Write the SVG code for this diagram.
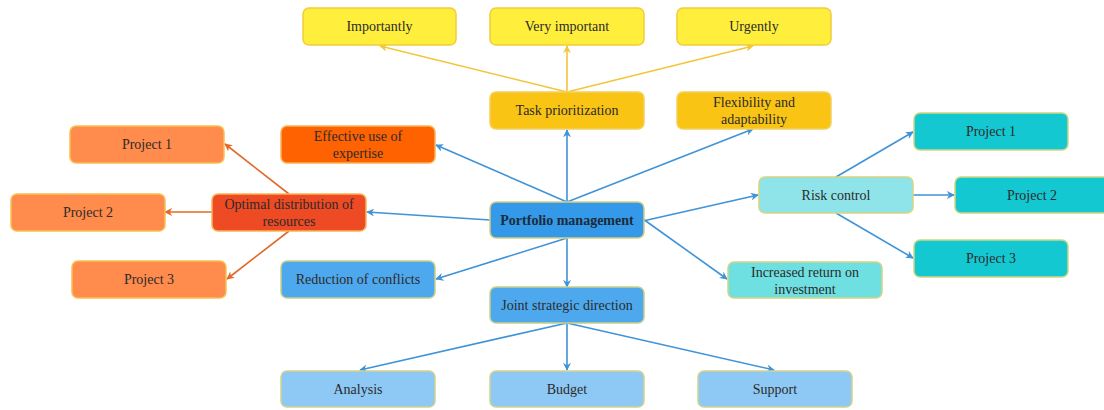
<svg xmlns="http://www.w3.org/2000/svg" width="1104" height="410" viewBox="0 0 1104 410" font-family="'Liberation Serif', 'Times New Roman', serif">
<defs>
<style>
.n{stroke-width:1.5}
.t{font-family:'Liberation Serif','Times New Roman',serif;font-size:14px;fill:#2b2b2b;text-anchor:middle}
.b{font-weight:bold;fill:#1d2b3a}
.y1{fill:#FFEE3C;stroke:#F2CC3A}
.y2{fill:#F9C414;stroke:#F4D060}
.o1{fill:#FF6200;stroke:#F7B255}
.o2{fill:#EE4A24;stroke:#F7B255}
.o3{fill:#FF8B4C;stroke:#F7C050}
.bl0{fill:#3399E8;stroke:#D8CF7E}
.bl1{fill:#4EA8EE;stroke:#C9CF88}
.bl2{fill:#8EC8F4;stroke:#D2D28C}
.c1{fill:#8EE4E8;stroke:#D6D480}
.c2{fill:#6EE0E2;stroke:#D6D480}
.c3{fill:#14C8D2;stroke:#CFD680}
.lb{stroke:#3F93D8;stroke-width:1.6;fill:none;marker-end:url(#ab)}
.lo{stroke:#E0692A;stroke-width:1.6;fill:none;marker-end:url(#ao)}
.ly{stroke:#F2C63A;stroke-width:1.6;fill:none;marker-end:url(#ay)}
</style>
<marker id="ab" viewBox="0 0 10 10" refX="9" refY="5" markerWidth="5" markerHeight="5" orient="auto" markerUnits="strokeWidth"><path d="M0,0 L10,5 L0,10 L3,5 Z" fill="#3F93D8"/></marker>
<marker id="ao" viewBox="0 0 10 10" refX="9" refY="5" markerWidth="5" markerHeight="5" orient="auto" markerUnits="strokeWidth"><path d="M0,0 L10,5 L0,10 L3,5 Z" fill="#E0692A"/></marker>
<marker id="ay" viewBox="0 0 10 10" refX="9" refY="5" markerWidth="5" markerHeight="5" orient="auto" markerUnits="strokeWidth"><path d="M0,0 L10,5 L0,10 L3,5 Z" fill="#F2C63A"/></marker>
</defs>
<rect width="1104" height="410" fill="#ffffff"/>
<g id="connectors">
<line class="ly" x1="567" y1="92" x2="380" y2="46"/>
<line class="ly" x1="567" y1="92" x2="567" y2="46"/>
<line class="ly" x1="567" y1="92" x2="753" y2="46"/>
<line class="lb" x1="567" y1="202" x2="567" y2="130"/>
<line class="lb" x1="567" y1="202" x2="753" y2="129"/>
<line class="lb" x1="567" y1="202" x2="436" y2="145"/>
<line class="lb" x1="490" y1="220" x2="367" y2="212"/>
<line class="lb" x1="567" y1="238" x2="436" y2="279"/>
<line class="lb" x1="567" y1="238" x2="567" y2="287"/>
<line class="lb" x1="643" y1="221" x2="758" y2="195"/>
<line class="lb" x1="643" y1="219" x2="727" y2="279"/>
<line class="lo" x1="289" y1="194" x2="225" y2="144"/>
<line class="lo" x1="212" y1="212" x2="165" y2="212"/>
<line class="lo" x1="289" y1="231" x2="227" y2="279"/>
<line class="lb" x1="836" y1="177" x2="913" y2="132"/>
<line class="lb" x1="913" y1="195" x2="954" y2="195"/>
<line class="lb" x1="836" y1="213" x2="913" y2="258"/>
<line class="lb" x1="567" y1="323" x2="360" y2="370"/>
<line class="lb" x1="567" y1="323" x2="567" y2="370"/>
<line class="lb" x1="567" y1="323" x2="774" y2="370"/>
</g>
<g id="importantly"><rect class="n y1" x="303" y="8" width="153" height="37" rx="6"/><text class="t" x="379.5" y="31">Importantly</text></g>
<g id="very-important"><rect class="n y1" x="490" y="8" width="154" height="37" rx="6"/><text class="t" x="567" y="31">Very important</text></g>
<g id="urgently"><rect class="n y1" x="677" y="8" width="154" height="37" rx="6"/><text class="t" x="754" y="31">Urgently</text></g>
<g id="task-prioritization"><rect class="n y2" x="490" y="92" width="154" height="37" rx="6"/><text class="t" x="567" y="115">Task prioritization</text></g>
<g id="flexibility"><rect class="n y2" x="677" y="92" width="154" height="37" rx="6"/><text class="t" x="754" y="107">Flexibility and</text><text class="t" x="754" y="124">adaptability</text></g>
<g id="effective-use"><rect class="n o1" x="281" y="126" width="154" height="37" rx="6"/><text class="t" x="358" y="141">Effective use of</text><text class="t" x="358" y="158">expertise</text></g>
<g id="optimal-distribution"><rect class="n o2" x="212" y="194" width="154" height="37" rx="6"/><text class="t" x="289" y="209">Optimal distribution of</text><text class="t" x="289" y="226">resources</text></g>
<g id="left-project-1"><rect class="n o3" x="70" y="126" width="154" height="37" rx="6"/><text class="t" x="147" y="149">Project 1</text></g>
<g id="left-project-2"><rect class="n o3" x="11" y="194" width="154" height="37" rx="6"/><text class="t" x="88" y="217">Project 2</text></g>
<g id="left-project-3"><rect class="n o3" x="72" y="261" width="154" height="37" rx="6"/><text class="t" x="149" y="284">Project 3</text></g>
<g id="reduction-of-conflicts"><rect class="n bl1" x="281" y="261" width="154" height="37" rx="6"/><text class="t" x="358" y="284">Reduction of conflicts</text></g>
<g id="portfolio-management"><rect class="n bl0" x="490" y="202" width="154" height="36" rx="6"/><text class="t b" x="567" y="225">Portfolio management</text></g>
<g id="joint-strategic-direction"><rect class="n bl1" x="490" y="287" width="154" height="36" rx="6"/><text class="t" x="567" y="310">Joint strategic direction</text></g>
<g id="analysis"><rect class="n bl2" x="281" y="371" width="154" height="36" rx="6"/><text class="t" x="358" y="394">Analysis</text></g>
<g id="budget"><rect class="n bl2" x="490" y="371" width="154" height="36" rx="6"/><text class="t" x="567" y="394">Budget</text></g>
<g id="support"><rect class="n bl2" x="698" y="371" width="154" height="36" rx="6"/><text class="t" x="775" y="394">Support</text></g>
<g id="risk-control"><rect class="n c1" x="759" y="177" width="154" height="36" rx="6"/><text class="t" x="836" y="200">Risk control</text></g>
<g id="increased-return"><rect class="n c2" x="728" y="262" width="154" height="36" rx="6"/><text class="t" x="805" y="277">Increased return on</text><text class="t" x="805" y="294">investment</text></g>
<g id="right-project-1"><rect class="n c3" x="914" y="113" width="154" height="37" rx="6"/><text class="t" x="991" y="136">Project 1</text></g>
<g id="right-project-2"><rect class="n c3" x="955" y="177" width="154" height="36" rx="6"/><text class="t" x="1032" y="200">Project 2</text></g>
<g id="right-project-3"><rect class="n c3" x="914" y="240" width="154" height="37" rx="6"/><text class="t" x="991" y="263">Project 3</text></g>
</svg>
